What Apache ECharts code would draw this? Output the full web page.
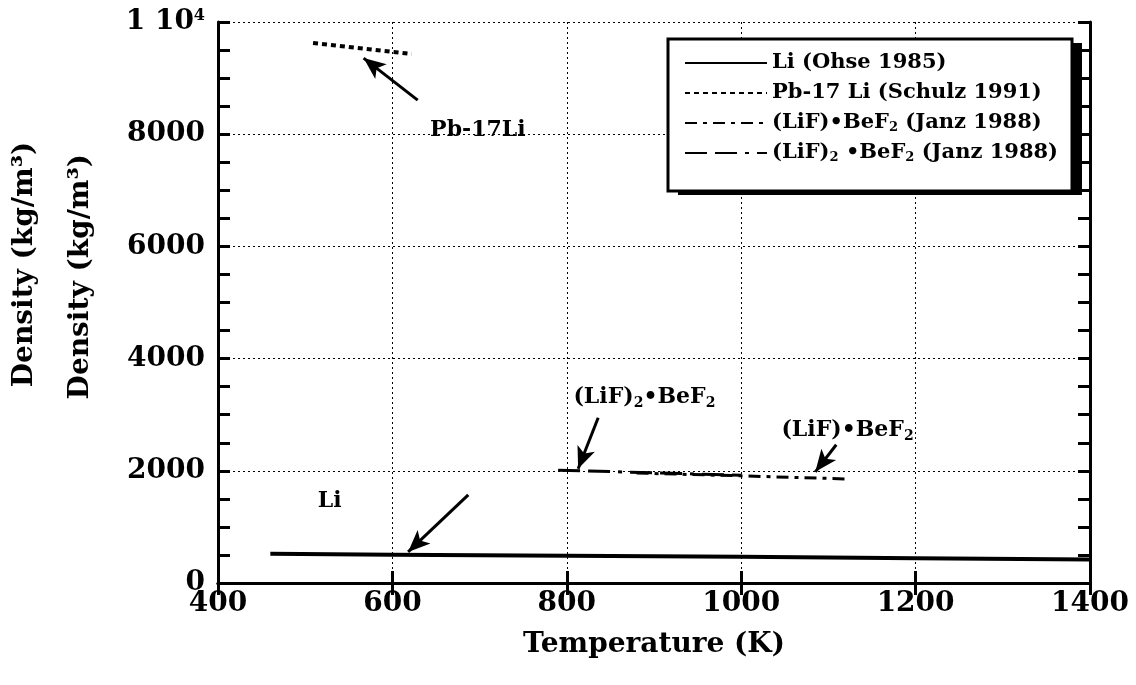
<!DOCTYPE html>
<html>
<head>
<meta charset="utf-8">
<script src="https://cdn.jsdelivr.net/npm/echarts@6/dist/echarts.min.js"></script>
<style>
  html, body { margin: 0; padding: 0; background: #fff; }
  #chart { width: 1136px; height: 685px; }
</style>
</head>
<body>
<div id="chart"></div>
<script>
// density vs temperature
const liTemp = [460, 600, 800, 1000, 1200, 1400];
const liDensity = [520, 505, 487, 466, 443, 418];

const pbliTemp = [509, 570, 622];
const pbliDensity = [9625, 9520, 9430];

const lifBef2Temp = [880, 1000, 1120];
const lifBef2Density = [1960, 1910, 1855];

const lif2Bef2Temp = [790, 900, 1000];
const lif2Bef2Density = [2010, 1965, 1920];

const xTicks = [400, 600, 800, 1000, 1200, 1400];
const yTicks = [0, 2000, 4000, 6000, 8000, 10000];

// annotations: [labelT, labelRho, arrowFromT, arrowFromRho, arrowToT, arrowToRho]
const liNote = [528, 1464, 687, 1571, 618, 554];
const pbliNote = [698, 8071, 629, 8607, 567, 9357];
const lif2Note = [889, 3304, 836, 2946, 813, 2036];
const lifNote = [1122, 2714, 1109, 2464, 1085, 1982];

const FONT = "DejaVu Serif";

const chart = echarts.init(document.getElementById("chart"));

const zip = (xs, ys) => xs.map((x, i) => [x, ys[i]]);

function note(n) {
  return {
    symbol: ["none", "arrow"],
    symbolSize: [14, 22],
    silent: true,
    label: { show: false },
    lineStyle: { color: "#000", width: 3, type: "solid" },
    data: [[{ coord: [n[2], n[3]] }, { coord: [n[4], n[5]] }]],
  };
}
function noteLabel(n, text) {
  return {
    silent: true,
    symbol: "circle",
    symbolSize: 0,
    label: {
      show: true, position: "inside", formatter: text,
      fontFamily: FONT, fontWeight: "bold", fontSize: 22, color: "#000",
      rich: { s: { fontFamily: FONT, fontWeight: "bold", fontSize: 14, color: "#000", padding: [12, 0, 0, 0] } },
    },
    data: [{ coord: [n[0], n[1]] }],
  };
}

const legendText = {
  "Li (Ohse 1985)": "Li (Ohse 1985)",
  "Pb-17 Li (Schulz 1991)": "Pb-17 Li (Schulz 1991)",
  "(LiF)•BeF2 (Janz 1988)": "(LiF)•BeF{s|2} (Janz 1988)",
  "(LiF)2•BeF2 (Janz 1988)": "(LiF){s|2} •BeF{s|2} (Janz 1988)",
};

const frameAxisLine = { show: true, lineStyle: { color: "#000", width: 3 } };
const inTick = { show: true, inside: true, length: 12, lineStyle: { color: "#000", width: 3 } };
const inMinor = { show: true, splitNumber: 4, length: 12, lineStyle: { color: "#000", width: 3 } };
const gridDots = { show: true, lineStyle: { color: "#000", width: 1, type: [2, 3] } };
const tickFont = { fontFamily: FONT, fontWeight: "bold", fontSize: 28, color: "#000" };

chart.setOption({
  animation: false,
  backgroundColor: "#fff",
  grid: { left: 218, right: 46, top: 22, bottom: 102 },
  legend: {
    left: 668, top: 39, z: 10,
    orient: "vertical",
    data: Object.keys(legendText),
    itemWidth: 82, itemHeight: 14, itemGap: 6,
    padding: [12, 14, 26, 16],
    itemStyle: { opacity: 0 },
    formatter: (name) => legendText[name],
    textStyle: {
      fontFamily: FONT, fontWeight: "bold", fontSize: 21, color: "#000", lineHeight: 24,
      rich: { s: { fontFamily: FONT, fontWeight: "bold", fontSize: 13, color: "#000", padding: [10, 0, 0, 0] } },
    },
  },
  xAxis: [{
    type: "value", min: 400, max: 1400, interval: 200,
    name: "Temperature (K)", nameLocation: "middle", nameGap: 48,
    nameTextStyle: { fontFamily: FONT, fontWeight: "bold", fontSize: 28, color: "#000" },
    axisLine: frameAxisLine,
    axisTick: inTick,
    axisLabel: Object.assign({ margin: 7, formatter: (v) => xTicks.includes(v) ? String(v) : "" }, tickFont),
    splitLine: gridDots,
  }, {
    type: "value", position: "top", min: 400, max: 1400, interval: 200,
    axisLine: frameAxisLine,
    axisTick: inTick,
    axisLabel: { show: false }, splitLine: { show: false },
  }],
  yAxis: [{
    type: "value", min: 0, max: 10000, interval: 2000,
    name: "Density (kg/m³)", nameLocation: "middle", nameGap: 179,
    nameTextStyle: { fontFamily: FONT, fontWeight: "bold", fontSize: 28, color: "#000", padding: [0, 0, 0, 76] },
    axisLine: frameAxisLine,
    axisTick: inTick,
    minorTick: inMinor,
    axisLabel: Object.assign({ margin: 13,
      formatter: (v) => v === 10000 ? "1 10{sup|4}" : (yTicks.includes(v) ? String(v) : ""),
      rich: { sup: { fontFamily: FONT, fontWeight: "bold", fontSize: 16, color: "#000", padding: [0, 0, 12, 0] } },
    }, tickFont),
    splitLine: gridDots,
  }, {
    type: "value", position: "right", min: 0, max: 10000, interval: 2000,
    axisLine: frameAxisLine,
    axisTick: inTick,
    minorTick: inMinor,
    axisLabel: { show: false }, splitLine: { show: false },
  }],
  graphic: [
    {
      type: "text", left: 67, top: 154, rotation: Math.PI / 2,
      style: { text: "Density (kg/m³)", fontFamily: FONT, fontWeight: "bold", fontSize: 28, fill: "#000" },
    },
    // legend frame with its drop shadow
    { type: "rect", z: 5, shape: { x: 678, y: 43, width: 404, height: 152 }, style: { fill: "#000" } },
    { type: "rect", z: 6, shape: { x: 668, y: 39, width: 404, height: 152 }, style: { fill: "#fff", stroke: "#000", lineWidth: 3 } },
  ],
  series: [
    {
      name: "Li (Ohse 1985)", type: "line", symbol: "none",
      data: zip(liTemp, liDensity),
      lineStyle: { color: "#000", width: 4, type: "solid" },
      itemStyle: { color: "#000" },
      markLine: note(liNote), markPoint: noteLabel(liNote, "Li"),
    },
    {
      name: "Pb-17 Li (Schulz 1991)", type: "line", symbol: "none",
      data: zip(pbliTemp, pbliDensity),
      lineStyle: { color: "#000", width: 4, type: [5, 4] },
      itemStyle: { color: "#000" },
      markLine: note(pbliNote), markPoint: noteLabel(pbliNote, "Pb-17Li"),
    },
    {
      name: "(LiF)•BeF2 (Janz 1988)", type: "line", symbol: "none",
      data: zip(lifBef2Temp, lifBef2Density),
      lineStyle: { color: "#000", width: 3, type: [12, 6, 4, 6] },
      itemStyle: { color: "#000" },
      markLine: note(lifNote), markPoint: noteLabel(lifNote, "(LiF)•BeF{s|2}"),
    },
    {
      name: "(LiF)2•BeF2 (Janz 1988)", type: "line", symbol: "none",
      data: zip(lif2Bef2Temp, lif2Bef2Density),
      lineStyle: { color: "#000", width: 3, type: [22, 8, 22, 8, 4, 8] },
      itemStyle: { color: "#000" },
      markLine: note(lif2Note), markPoint: noteLabel(lif2Note, "(LiF){s|2}•BeF{s|2}"),
    },
  ],
});
</script>
</body>
</html>
